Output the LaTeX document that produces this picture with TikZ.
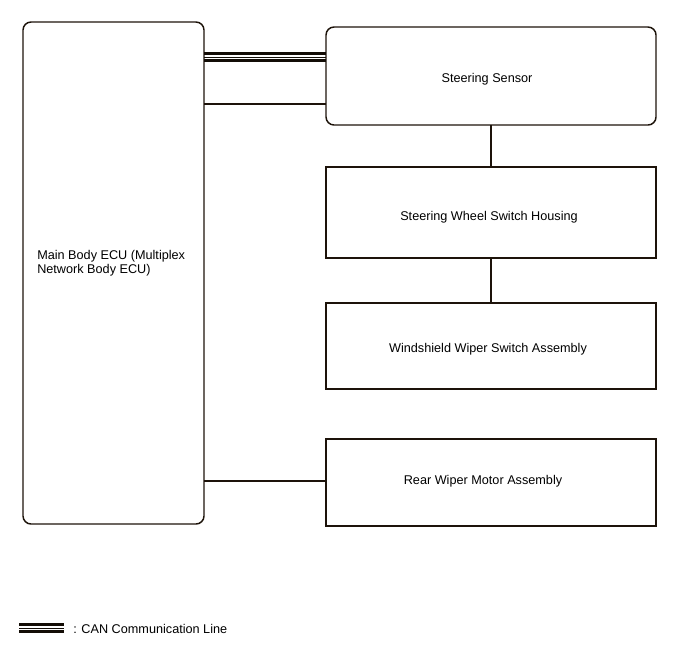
\documentclass[tikz,border=0pt]{standalone}
\usepackage{fontspec}
\setmainfont{Liberation Sans}
\begin{document}
\begin{tikzpicture}[x=0.75pt,y=-0.75pt,
  box/.style={draw=black!85!brown, line width=1.1pt},
  rbox/.style={box, rounded corners=6pt},
  conn/.style={draw=black!85!brown, line width=1.1pt},
  canthick/.style={draw=black!90!brown, line width=2pt},
  canthin/.style={draw=black!90!brown, line width=1pt},
  lbl/.style={font=\fontsize{9.5}{10.5}\selectfont, inner sep=0pt}]
\useasboundingbox (0,0) rectangle (688,658);
% boxes
\draw[rbox] (23,22) rectangle (204,524);
\node[lbl, anchor=west, align=left] (ecu) at (37,263.5) {Main Body ECU (Multiplex\\Network Body ECU)};
\draw[rbox] (326,27) rectangle (656,125);
\node[lbl] (ss) at (487,79.5) {Steering Sensor};
\draw[box] (326,167) rectangle (656,258);
\node[lbl] (swsh) at (489,217.5) {Steering Wheel Switch Housing};
\draw[box] (326,303) rectangle (656,389);
\node[lbl] (wwsa) at (488,349.5) {Windshield Wiper Switch Assembly};
\draw[box] (326,439) rectangle (656,526);
\node[lbl] (rwma) at (483,481.5) {Rear Wiper Motor Assembly};
% connectors
\coordinate (a1) at (491,125); \coordinate (a2) at (491,167);
\coordinate (b1) at (491,258); \coordinate (b2) at (491,303);
\draw[conn] (a1) -- (a2);
\draw[conn] (b1) -- (b2);
\coordinate (c1) at (204,104); \coordinate (c2) at (326,104);
\draw[conn] (c1) -- (c2);
\coordinate (d1) at (204,481); \coordinate (d2) at (326,481);
\draw[conn] (d1) -- (d2);
% CAN
\coordinate (e1) at (204,53.5); \coordinate (e2) at (326,53.5);
\coordinate (f1) at (204,57.2); \coordinate (f2) at (326,57.2);
\coordinate (g1) at (204,60.8); \coordinate (g2) at (326,60.8);
\draw[canthick] (e1) -- (e2);
\draw[canthin] (f1) -- (f2);
\draw[canthick] (g1) -- (g2);
% legend
\coordinate (l1) at (19,624.5); \coordinate (l2) at (64,624.5);
\coordinate (m1) at (19,628.2); \coordinate (m2) at (64,628.2);
\coordinate (n1) at (19,631.8); \coordinate (n2) at (64,631.8);
\draw[canthick] (l1) -- (l2);
\draw[canthin] (m1) -- (m2);
\draw[canthick] (n1) -- (n2);
\node[lbl, anchor=west] (leg) at (73,628.5) {: CAN Communication Line};
\end{tikzpicture}
\end{document}
